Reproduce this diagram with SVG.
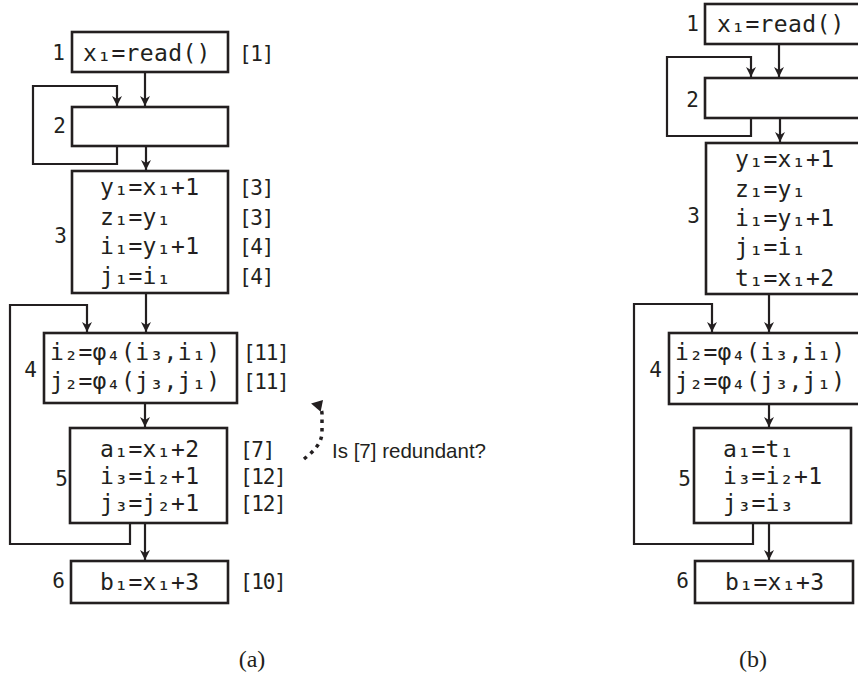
<svg xmlns="http://www.w3.org/2000/svg" width="858" height="678" viewBox="0 0 858 678">
  <style>
    .box { fill: #ffffff; stroke: #231f20; stroke-width: 2.6; }
    .edge { fill: none; stroke: #231f20; stroke-width: 2.2; stroke-linejoin: miter; }
    .code { font-family: "DejaVu Sans Mono", "Liberation Mono", monospace; font-size: 23px; letter-spacing: 0.35px; fill: #231f20; }
    .num { font-family: "DejaVu Sans Mono", "Liberation Mono", monospace; font-size: 21px; fill: #231f20; }
    .tag { font-family: "DejaVu Sans Mono", "Liberation Mono", monospace; font-size: 21px; letter-spacing: -1.3px; fill: #231f20; }
    .cap { font-family: "Liberation Serif", "DejaVu Serif", serif; font-size: 24px; fill: #231f20; text-anchor: middle; }
    .note { font-family: "Liberation Sans", "DejaVu Sans", sans-serif; font-size: 21px; fill: #231f20; }
  </style>
  <defs>
    <marker id="arrow" markerUnits="userSpaceOnUse" markerWidth="12" markerHeight="12" viewBox="-10 -6 12 12" refX="0" refY="0" orient="auto">
      <path d="M0,0 L-10,-5 L-7,0 L-10,5 Z" fill="#231f20"/>
    </marker>
    <marker id="dotArrow" markerUnits="userSpaceOnUse" markerWidth="14" markerHeight="14" viewBox="-12 -7 14 14" refX="0" refY="0" orient="auto">
      <path d="M2,0 L-9,-6 L-9,6 Z" fill="#231f20"/>
    </marker>
  </defs>

  <!-- (a) control-flow graph before the rewrite -->
  <g id="edges-a">
    <path class="edge" d="M145,72 V106" marker-end="url(#arrow)"/>
    <path class="edge" d="M117,146 V164 H33 V86 H117 V106" marker-end="url(#arrow)"/>
    <path class="edge" d="M146,146 V170" marker-end="url(#arrow)"/>
    <path class="edge" d="M146,293 V332" marker-end="url(#arrow)"/>
    <path class="edge" d="M130,523 V544 H10 V305 H87 V332" marker-end="url(#arrow)"/>
    <path class="edge" d="M145,403 V427" marker-end="url(#arrow)"/>
    <path class="edge" d="M145,523 V560" marker-end="url(#arrow)"/>
  </g>

  <g id="a-b1">
    <rect class="box" x="72" y="32" width="156" height="40"/>
    <text class="num" x="65" y="60" text-anchor="end">1</text>
    <text class="code" x="83" y="61">x₁=read()</text>
    <text class="tag" x="239" y="61">[1]</text>
  </g>
  <g id="a-b2">
    <rect class="box" x="72" y="107" width="156" height="39"/>
    <text class="num" x="66" y="133" text-anchor="end">2</text>
  </g>
  <g id="a-b3">
    <rect class="box" x="72" y="171" width="156" height="122"/>
    <text class="num" x="67" y="243" text-anchor="end">3</text>
    <text class="code" x="100" y="195">y₁=x₁+1</text>
    <text class="code" x="100" y="224.5">z₁=y₁</text>
    <text class="code" x="100" y="254">i₁=y₁+1</text>
    <text class="code" x="100" y="283.5">j₁=i₁</text>
    <text class="tag" x="239" y="195">[3]</text>
    <text class="tag" x="239" y="224.5">[3]</text>
    <text class="tag" x="239" y="254">[4]</text>
    <text class="tag" x="239" y="283.5">[4]</text>
  </g>
  <g id="a-b4">
    <rect class="box" x="44" y="333" width="193" height="70"/>
    <text class="num" x="37" y="377" text-anchor="end">4</text>
    <text class="code" x="50" y="360">i₂=φ₄(i₃,i₁)</text>
    <text class="code" x="50" y="389">j₂=φ₄(j₃,j₁)</text>
    <text class="tag" x="243" y="360">[11]</text>
    <text class="tag" x="243" y="389">[11]</text>
  </g>
  <g id="a-b5">
    <rect class="box" x="70" y="428" width="157" height="95"/>
    <text class="num" x="68" y="486" text-anchor="end">5</text>
    <text class="code" x="100" y="457">a₁=x₁+2</text>
    <text class="code" x="100" y="484">i₃=i₂+1</text>
    <text class="code" x="100" y="511">j₃=j₂+1</text>
    <text class="tag" x="240" y="457">[7]</text>
    <text class="tag" x="240" y="484">[12]</text>
    <text class="tag" x="240" y="511">[12]</text>
  </g>
  <g id="a-b6">
    <rect class="box" x="71" y="561" width="157" height="42"/>
    <text class="num" x="65" y="588" text-anchor="end">6</text>
    <text class="code" x="100" y="590">b₁=x₁+3</text>
    <text class="tag" x="240" y="589">[10]</text>
  </g>

  <!-- question about the copy in block 5 -->
  <g id="note">
    <path d="M304,459 C314,451 322,443 322,432 L322,414 C322,408 318,405 313,404" fill="none" stroke="#231f20" stroke-width="3.5" stroke-dasharray="3.5 5" marker-end="url(#dotArrow)"/>
    <text class="note" x="332" y="458" textLength="154" lengthAdjust="spacingAndGlyphs">Is [7] redundant?</text>
  </g>

  <text class="cap" x="252" y="667">(a)</text>

  <!-- (b) control-flow graph after the rewrite -->
  <g id="edges-b">
    <path class="edge" d="M779,44 V77" marker-end="url(#arrow)"/>
    <path class="edge" d="M751,118 V136 H667 V57 H751 V77" marker-end="url(#arrow)"/>
    <path class="edge" d="M780,118 V142" marker-end="url(#arrow)"/>
    <path class="edge" d="M769,294 V332" marker-end="url(#arrow)"/>
    <path class="edge" d="M753,523 V544 H634 V304 H712 V332" marker-end="url(#arrow)"/>
    <path class="edge" d="M769,404 V427" marker-end="url(#arrow)"/>
    <path class="edge" d="M769,523 V560" marker-end="url(#arrow)"/>
  </g>

  <g id="b-b1">
    <rect class="box" x="705" y="4" width="160" height="40"/>
    <text class="num" x="699" y="31" text-anchor="end">1</text>
    <text class="code" x="717" y="32">x₁=read()</text>
  </g>
  <g id="b-b2">
    <rect class="box" x="705" y="78" width="160" height="40"/>
    <text class="num" x="699" y="107" text-anchor="end">2</text>
  </g>
  <g id="b-b3">
    <rect class="box" x="706" y="143" width="160" height="151"/>
    <text class="num" x="700" y="223" text-anchor="end">3</text>
    <text class="code" x="735" y="167">y₁=x₁+1</text>
    <text class="code" x="735" y="197">z₁=y₁</text>
    <text class="code" x="735" y="226">i₁=y₁+1</text>
    <text class="code" x="735" y="255">j₁=i₁</text>
    <text class="code" x="735" y="286">t₁=x₁+2</text>
  </g>
  <g id="b-b4">
    <rect class="box" x="669" y="333" width="200" height="71"/>
    <text class="num" x="662" y="377" text-anchor="end">4</text>
    <text class="code" x="675" y="360">i₂=φ₄(i₃,i₁)</text>
    <text class="code" x="675" y="389">j₂=φ₄(j₃,j₁)</text>
  </g>
  <g id="b-b5">
    <rect class="box" x="694" y="428" width="157" height="95"/>
    <text class="num" x="691" y="486" text-anchor="end">5</text>
    <text class="code" x="723" y="457">a₁=t₁</text>
    <text class="code" x="723" y="484">i₃=i₂+1</text>
    <text class="code" x="723" y="511">j₃=i₃</text>
  </g>
  <g id="b-b6">
    <rect class="box" x="695" y="561" width="158" height="42"/>
    <text class="num" x="689" y="588" text-anchor="end">6</text>
    <text class="code" x="725" y="590">b₁=x₁+3</text>
  </g>

  <text class="cap" x="753" y="667">(b)</text>
</svg>
